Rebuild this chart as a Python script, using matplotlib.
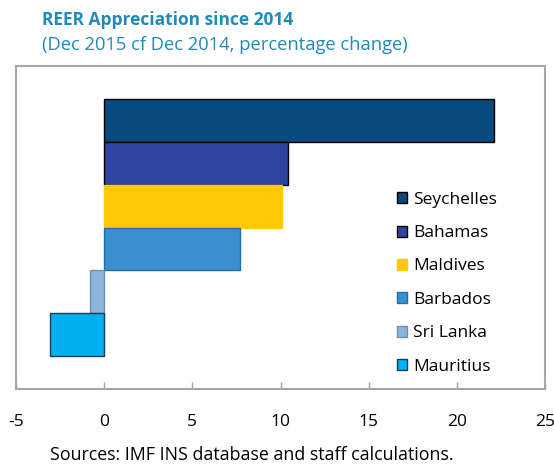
import matplotlib.pyplot as plt
from matplotlib.patches import Patch

countries = ['Seychelles', 'Bahamas', 'Maldives', 'Barbados', 'Sri Lanka', 'Mauritius']
values = [22.1, 10.4, 10.1, 7.7, -0.8, -3.1]
colors = ['#0B4A7D', '#2E45A0', '#FFC90A', '#3A8FD0', '#8CB4DC', '#00B0F0']
edges = ['#000000', '#000000', '#FFC90A', '#1F6FA8', '#6E8FB0', '#1A3C5C']
xticks = [-5, 0, 5, 10, 15, 20, 25]

plt.rcParams['font.family'] = ['Open Sans', 'DejaVu Sans']

fig = plt.figure(figsize=(5.54, 4.66), dpi=100)
ax = fig.add_axes([0.0289, 0.165, 0.955, 0.693])

ypos = list(range(len(countries)))[::-1]
for y, v, c, e, name in zip(ypos, values, colors, edges, countries):
    ax.barh(y, v, height=1, color=c, edgecolor=e, linewidth=1, label=name)

ax.set_xlim(-5, 25)
ax.set_ylim(-1.28, 6.28)
ax.set_xticks(xticks)
ax.set_xticklabels([str(t) for t in xticks], fontsize=12.5)
ax.set_yticks([])
ax.tick_params(axis='x', direction='in', length=5, width=1, color='#A6A6A6', pad=18)
for s in ax.spines.values():
    s.set_color('#A6A6A6')
    s.set_linewidth(1.5)

handles = [Patch(facecolor=c, edgecolor=e, linewidth=1) for c, e in zip(colors, edges)]
ax.legend(handles, countries, loc='lower left', bbox_to_anchor=(0.72, 0.045),
          frameon=False, fontsize=12.5, handlelength=0.6, handleheight=0.6,
          handletextpad=0.35, labelspacing=1.0, borderpad=0, borderaxespad=0)

fig.text(0.076, 0.958, 'REER Appreciation since 2014', fontsize=12.5, fontweight='bold',
         color='#1F8BB8', ha='left', va='center')
fig.text(0.076, 0.903, '(Dec 2015 cf Dec 2014, percentage change)', fontsize=13.2,
         color='#1F8BB8', ha='left', va='center')
fig.text(0.09, 0.004, 'Sources: IMF INS database and staff calculations.', fontsize=12.8,
         color='#000000', ha='left', va='bottom')

fig.savefig('out.png', dpi=100)
